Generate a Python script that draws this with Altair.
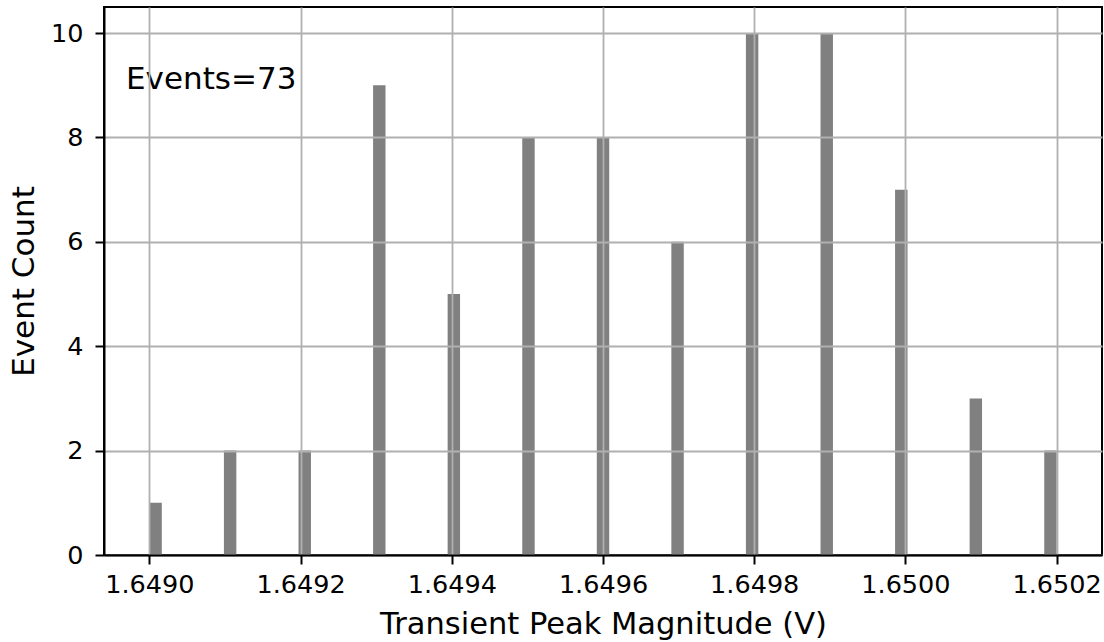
import altair as alt
import pandas as pd

# Histogram bins (left edges, volts) and event counts
bin_starts = [1.649000, 1.6490986, 1.6491973, 1.6492959, 1.6493945, 1.6494932,
              1.6495918, 1.6496904, 1.6497890, 1.6498877, 1.6499863, 1.6500849,
              1.6501836]
counts = [1, 2, 2, 9, 5, 8, 8, 6, 10, 10, 7, 3, 2]
bin_width = 0.00001644

x_ticks = [1.6490, 1.6492, 1.6494, 1.6496, 1.6498, 1.6500, 1.6502]
y_ticks = [0, 2, 4, 6, 8, 10]
x_domain = [1.64894, 1.65026]
y_domain = [0, 10.5]
annotation = "Events=73"

df = pd.DataFrame({"start": bin_starts, "count": counts})
df["end"] = df["start"] + bin_width
df["base"] = 0

FONT = "DejaVu Sans"

bars = alt.Chart(df).mark_bar(color="#808080", strokeWidth=0).encode(
    x=alt.X("start:Q", scale=alt.Scale(domain=x_domain, nice=False, zero=False),
            axis=alt.Axis(values=x_ticks, format=".4f", title="Transient Peak Magnitude (V)",
                          grid=True, gridColor="#b0b0b0", gridWidth=1.8,
                          domainColor="black", domainWidth=2,
                          tickColor="black", tickWidth=2, tickSize=9,
                          labelFont=FONT, labelFontSize=25.5, labelColor="black",
                          labelBaseline="alphabetic", labelPadding=28,
                          labelFlush=False, labelOverlap=False,
                          titleFont=FONT, titleFontSize=30.5, titleFontWeight="normal",
                          titleColor="black", titleBaseline="alphabetic", titleY=78,
                          zindex=1)),
    x2="end:Q",
    y=alt.Y("count:Q", scale=alt.Scale(domain=y_domain, nice=False),
            axis=alt.Axis(values=y_ticks, format="d", title="Event Count",
                          grid=True, gridColor="#b0b0b0", gridWidth=1.8,
                          domainColor="black", domainWidth=2,
                          tickColor="black", tickWidth=2, tickSize=9,
                          labelFont=FONT, labelFontSize=25.5, labelColor="black",
                          labelPadding=12, labelFlush=False, labelOverlap=False,
                          titleFont=FONT, titleFontSize=31, titleFontWeight="normal",
                          titleColor="black", titleBaseline="alphabetic",
                          titleX=-70.5, titleY=274, titleAngle=270,
                          zindex=1)),
    y2="base:Q",
)

text = alt.Chart(pd.DataFrame({"label": [annotation]})).mark_text(
    font=FONT, fontSize=31, align="left", baseline="alphabetic", color="black"
).encode(
    x=alt.value(22), y=alt.value(82), text="label:N"
)

chart = alt.layer(bars, text).properties(
    width=998, height=548,
    padding={"left": 104, "top": 7, "right": 2, "bottom": 85},
    autosize=alt.AutoSizeParams(type="none"),
    background="white",
).configure_view(stroke="black", strokeWidth=2)

chart.save("out.html", embed_options={"renderer": "svg", "actions": False})
